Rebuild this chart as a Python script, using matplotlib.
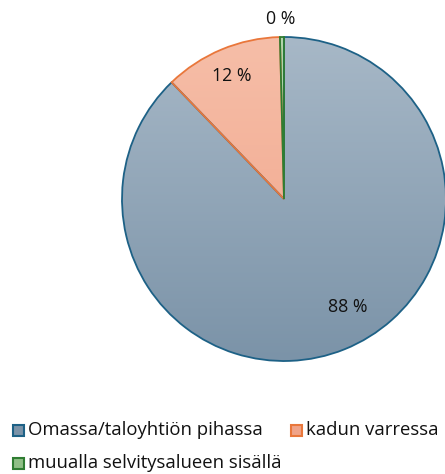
import numpy as np
import matplotlib
matplotlib.use("Agg")
import matplotlib.pyplot as plt
from matplotlib.patches import Rectangle
from matplotlib.colors import LinearSegmentedColormap

categories = ["Omassa/taloyhtiön pihassa", "kadun varressa", "muualla selvitysalueen sisällä"]
values = [87.8, 11.8, 0.4]
labels = ["88 %", "12 %", "0 %"]

face_top = ["#a7b8c7", "#f6bea8", "#b3d6ad"]
face_bot = ["#7b93a8", "#f0a388", "#8fbf86"]
edges = ["#1d6186", "#e9773b", "#2f7d32"]

W, H = 445, 474
fig = plt.figure(figsize=(W / 100, H / 100), dpi=100)
ax = fig.add_axes([0, 0, 1, 1])

cx, cy, r = 284, H - 199, 162
wedges, _ = ax.pie(values, center=(cx, cy), radius=r, startangle=90, counterclock=False,
                   colors=face_top, frame=True,
                   wedgeprops=dict(linewidth=1.3))
ax.set_xlim(0, W)
ax.set_ylim(0, H)
ax.set_aspect("equal")
ax.axis("off")

grad = np.linspace(0, 1, 256).reshape(-1, 1)
for w, c0, c1, ec in zip(wedges, face_top, face_bot, edges):
    w.set_edgecolor(ec)
    w.set_facecolor("none")
    w.set_zorder(3)
    cmap = LinearSegmentedColormap.from_list("g", [c0, c1])
    im = ax.imshow(grad, cmap=cmap, extent=(cx - r, cx + r, cy - r, cy + r),
                   origin="upper", aspect="auto", zorder=2, interpolation="bilinear")
    im.set_clip_path(w)
ax.set_xlim(0, W)
ax.set_ylim(0, H)

font = "Open Sans"
label_pos = [(348, 307), (232, 76), (281, 19)]
for lab, (x, y) in zip(labels, label_pos):
    ax.text(x, H - y, lab, ha="center", va="center", fontsize=12.8, family=font, color="#111111", zorder=5)

leg_pos = [(13, 430), (291, 430), (13, 463)]
for (x, y), name, c0, c1, ec in zip(leg_pos, categories, face_top, face_bot, edges):
    ax.add_patch(Rectangle((x, H - y - 5.5), 11, 11, facecolor=c1, edgecolor=ec, linewidth=1.5, zorder=5))
    ax.text(x + 15, H - y, name, ha="left", va="center", fontsize=13.3, family=font, color="#111111")

fig.savefig("out.png", dpi=100)
